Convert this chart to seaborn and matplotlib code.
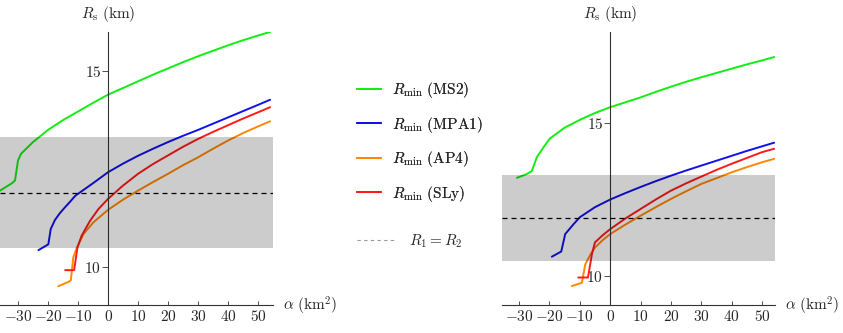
import numpy as np
import pandas as pd
import matplotlib.pyplot as plt
import seaborn as sns
from matplotlib.lines import Line2D

sns.set_style('ticks')
plt.rcParams['mathtext.fontset'] = 'cm'
plt.rcParams['font.family'] = ['DejaVu Serif']

#%% data (alpha in km^2, R_s in km)
eos_names = ['MS2', 'MPA1', 'AP4', 'SLy']
eos_colors = ['#11ee11', '#1111ee', '#ff8800', '#ff1a1a']

# left panel
alpha_ms2_a = [-36, -32, -31, -30, -29, -25, -20, -15, -10, -5, 0, 5, 10, 15, 20, 25, 30, 35, 40, 45, 50, 54]
r_ms2_a = [11.95, 12.14, 12.21, 12.72, 12.89, 13.19, 13.5, 13.75, 13.97, 14.19, 14.4, 14.57, 14.74,
           14.91, 15.07, 15.23, 15.38, 15.52, 15.66, 15.79, 15.91, 16.0]
alpha_mpa1_a = [-23.2, -19.9, -19.1, -17.7, -16, -14.4, -12.5, -10.9, -5, 0, 5, 10, 15, 20, 25, 30, 35,
                40, 45, 50, 54]
r_mpa1_a = [10.43, 10.58, 10.97, 11.2, 11.38, 11.52, 11.68, 11.82, 12.14, 12.42, 12.64, 12.84, 13.02,
            13.19, 13.35, 13.5, 13.66, 13.82, 13.98, 14.14, 14.27]
alpha_ap4_a = [-16.6, -13.2, -12.4, -11.6, -10.4, -8.2, -4.9, 0, 5, 10, 15, 20, 25, 30, 35, 40, 45, 50, 54]
r_ap4_a = [9.51, 9.62, 9.66, 10.24, 10.49, 10.84, 11.14, 11.46, 11.72, 11.95, 12.17, 12.38, 12.6,
           12.8, 13.02, 13.23, 13.42, 13.59, 13.72]
alpha_sly_a = [-14.3, -11.3, -10.2, -8.8, -6, -3.2, 0, 5, 10, 15, 20, 25, 30, 35, 40, 45, 50, 54]
r_sly_a = [9.92, 9.92, 10.5, 10.8, 11.18, 11.48, 11.74, 12.08, 12.38, 12.63, 12.85, 13.07, 13.27,
           13.45, 13.62, 13.79, 13.95, 14.08]

# right panel
alpha_ms2_b = [-30.7, -27.5, -25.8, -24.1, -22, -19.9, -15, -9.9, -5, 0, 5, 10, 15, 20, 25, 30, 35, 40, 45, 50, 54]
r_ms2_b = [13.21, 13.33, 13.43, 13.89, 14.2, 14.49, 14.85, 15.11, 15.33, 15.52, 15.68, 15.84, 16.02,
           16.19, 16.35, 16.5, 16.64, 16.78, 16.92, 17.05, 17.16]
alpha_mpa1_b = [-19.2, -16.1, -14.8, -12, -10, -5, 0, 5, 10, 15, 20, 25, 30, 35, 40, 45, 50, 54]
r_mpa1_b = [10.63, 10.8, 11.37, 11.7, 11.92, 12.25, 12.5, 12.71, 12.91, 13.1, 13.28, 13.45, 13.61,
            13.77, 13.93, 14.09, 14.24, 14.36]
alpha_ap4_b = [-12.6, -9.3, -8.2, -6.5, -5, -2.5, 0, 5, 10, 15, 20, 25, 30, 35, 40, 45, 50, 54]
r_ap4_b = [9.67, 9.78, 10.38, 10.7, 10.93, 11.17, 11.37, 11.68, 11.97, 12.25, 12.52, 12.77, 13.01,
           13.2, 13.39, 13.56, 13.72, 13.83]
alpha_sly_b = [-10.5, -7.3, -6.0, -5, -2.5, 0, 5, 10, 15, 20, 25, 30, 35, 40, 45, 50, 54]
r_sly_b = [9.95, 9.95, 10.72, 11.1, 11.33, 11.53, 11.88, 12.19, 12.5, 12.79, 13.03, 13.25, 13.47,
           13.67, 13.86, 14.05, 14.16]

band_low, band_high = 10.49, 13.31
r_equal = 11.9

xticks = [-30, -20, -10, 0, 10, 20, 30, 40, 50]
yticks = [10, 15]


def to_frame(alphas, radii):
    parts = []
    for name, a, r in zip(eos_names, alphas, radii):
        parts.append(pd.DataFrame({'alpha': a, 'R': r, 'EOS': name}))
    return pd.concat(parts, ignore_index=True)


df_a = to_frame([alpha_ms2_a, alpha_mpa1_a, alpha_ap4_a, alpha_sly_a], [r_ms2_a, r_mpa1_a, r_ap4_a, r_sly_a])
df_b = to_frame([alpha_ms2_b, alpha_mpa1_b, alpha_ap4_b, alpha_sly_b], [r_ms2_b, r_mpa1_b, r_ap4_b, r_sly_b])

#%% figure
fig = plt.figure(figsize=(8.43, 3.33), dpi=100)
ax1 = fig.add_axes([0.0, 0.084, 0.324, 0.82])
ax2 = fig.add_axes([0.5955, 0.084, 0.324, 0.82])

palette = dict(zip(eos_names, eos_colors))
axis_col = '#333333'

for ax, df, xlim, ylim in [(ax1, df_a, (-36, 55), (9.03, 16.0)), (ax2, df_b, (-35.6, 54.3), (9.05, 17.98))]:
    sns.lineplot(data=df, x='alpha', y='R', hue='EOS', palette=palette, sort=False,
                 estimator=None, legend=False, lw=1.4, ax=ax, zorder=2)
    ax.axhspan(band_low, band_high, color='black', alpha=0.2, lw=0, zorder=3)
    ax.axhline(r_equal, color='black', ls=(0, (4, 3.2)), lw=0.9, zorder=4)
    ax.set_xlim(*xlim)
    ax.set_ylim(*ylim)
    ax.set_facecolor('none')
    ax.spines['top'].set_visible(False)
    ax.spines['right'].set_visible(False)
    ax.spines['left'].set_position(('data', 0))
    for s in ['left', 'bottom']:
        ax.spines[s].set_color(axis_col)
        ax.spines[s].set_linewidth(0.8)
    ax.set_xticks(xticks)
    ax.set_xticklabels([f'${v}$' for v in xticks])
    ax.set_yticks(yticks)
    ax.set_yticklabels([f'${v}$' for v in yticks])
    ax.tick_params(axis='x', direction='in', length=3, width=0.6, color=axis_col, labelsize=11, pad=3)
    ax.tick_params(axis='y', direction='out', length=4, width=0.6, color=axis_col, labelsize=11, pad=1)
    ax.set_xlabel('')
    ax.set_ylabel('')
    ax.text(0, 1.065, r'$R_\mathrm{s}\ (\mathrm{km})$', transform=ax.get_xaxis_transform(),
            ha='center', va='center', fontsize=11)
    ax.text(1.037, -0.005, r'$\alpha\ (\mathrm{km}^2)$', transform=ax.transAxes,
            ha='left', va='center', fontsize=11)

#%% legend in the middle
handles = [Line2D([], [], color=c, lw=1.4) for c in eos_colors]
labels = [r'$R_{\min}\ (\mathrm{' + n + '})$' for n in eos_names]
leg1 = fig.legend(handles, labels, loc='center left', bbox_to_anchor=(357 / 843, 1 - 142 / 333),
                  frameon=False, fontsize=11, handlelength=1.6, handletextpad=0.7,
                  labelspacing=0.95, borderpad=0, borderaxespad=0)
fig.add_artist(leg1)
dash_handle = [Line2D([], [], color='#999999', lw=0.8, ls=(0, (3, 3)))]
fig.legend(dash_handle, [r'$R_1 = R_2$'], loc='center left', bbox_to_anchor=(357 / 843, 1 - 241 / 333),
           frameon=False, fontsize=11, handlelength=2.6, handletextpad=0.8,
           borderpad=0, borderaxespad=0)

fig.savefig('out.png', dpi=100)
